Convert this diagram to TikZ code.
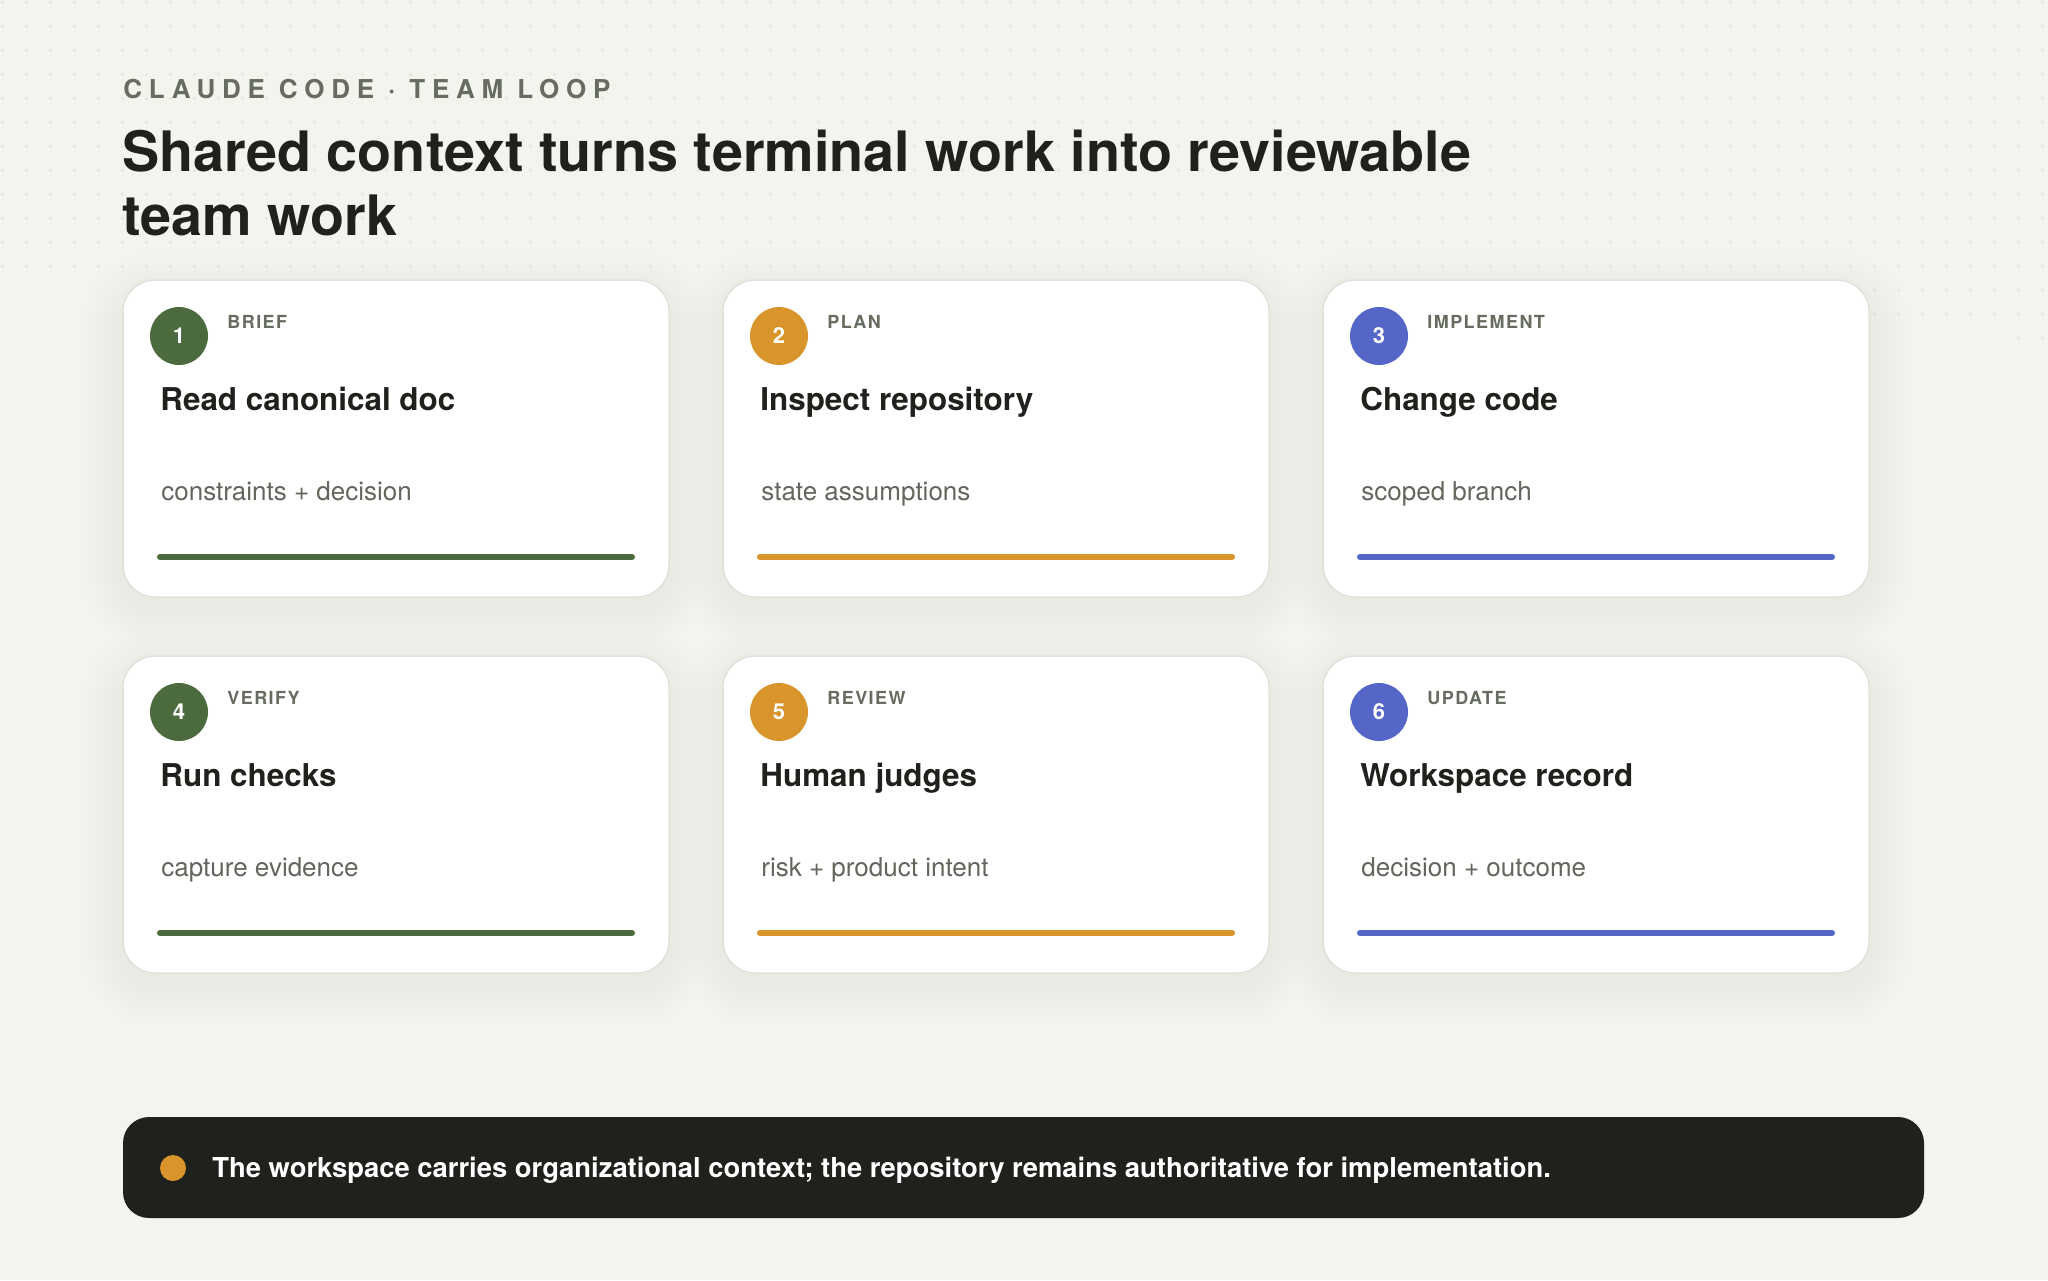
\documentclass[tikz,border=0pt]{standalone}
\usepackage{fontspec}
\setmainfont{TeX Gyre Heros}
\usetikzlibrary{calc}
\definecolor{bgc}{HTML}{F4F4EF}
\definecolor{dotc}{HTML}{E3E3DD}
\definecolor{cardline}{HTML}{E2E2DD}
\definecolor{ink}{HTML}{1E211C}
\definecolor{labgray}{HTML}{676C61}
\definecolor{subgray}{HTML}{62665C}
\definecolor{cgreen}{HTML}{4B6B3E}
\definecolor{corange}{HTML}{D9952C}
\definecolor{cblue}{HTML}{5566C8}
\tikzset{
  cardbox/.style={draw=cardline, line width=0.75pt, fill=white, rounded corners=16pt,
    minimum width=273pt, minimum height=158.5pt, outer sep=0pt, inner sep=0pt},
  numdot/.style={circle, minimum size=29pt, inner sep=0pt, text=white,
    font=\fontsize{11}{13}\selectfont\bfseries},
  lab/.style={anchor=base west, inner sep=0pt, text=labgray,
    font=\fontsize{9}{11}\selectfont\bfseries\addfontfeatures{LetterSpace=8}},
  ctitle/.style={anchor=base west, inner sep=0pt, text=ink,
    font=\fontsize{15.7}{18}\selectfont\bfseries},
  csub/.style={anchor=base west, inner sep=0pt, text=subgray,
    font=\fontsize{13}{15}\selectfont},
  barline/.style={line width=3pt, line cap=round},
  shadowlayer/.style={fill=black, opacity=0.005},
}
\newcommand{\stepcard}[8]{%
  \foreach \s in {2,6,...,38}{%
    \pgfmathsetmacro{\rr}{16+0.5*\s}
    \fill[shadowlayer, rounded corners=\rr pt] (#1-\s,#2-\s+12) rectangle (#1+546+\s,#2+317+\s+12);
  }
  \node[cardbox, anchor=north west] (card#3) at (#1,#2) {};
  \node[numdot, fill=#5] (num#3) at ($(card#3.north west)+(56,56)$) {#4};
  \node[lab] (lab#3) at ($(card#3.north west)+(104,48)$) {#6};
  \node[ctitle] (tit#3) at ($(card#3.north west)+(37,130)$) {#7};
  \node[csub] (sub#3) at ($(card#3.north west)+(38,220)$) {#8};
  \coordinate (bl#3) at ($(card#3.north west)+(37,277)$);
  \coordinate (br#3) at ($(card#3.north west)+(509,277)$);
  \draw[barline, #5] (bl#3) -- (br#3);
}
\begin{document}
\begin{tikzpicture}[x=0.5pt,y=-0.5pt]
\useasboundingbox (0,0) rectangle (2048,1280);
\fill[bgc] (0,0) rectangle (2048,1280);
% dot grid
\foreach \i in {0,...,85}{\foreach \j in {0,...,11}{\fill[dotc] (24*\i+2.5,24*\j+2.5) circle (1.5);}}
\foreach \i in {78,...,85}{\foreach \j in {12,13}{\fill[dotc] (24*\i+2.5,24*\j+2.5) circle (1.5);}}
\foreach \i in {84,85}{\fill[dotc] (24*\i+2.5,338.5) circle (1.5);}
% heading
\node[anchor=base west, inner sep=0pt, text=labgray,
  font=\fontsize{13}{15}\selectfont\bfseries\addfontfeatures{LetterSpace=26}] (kicker) at (123,98.7) {CLAUDE CODE · TEAM LOOP};
\node[anchor=base west, inner sep=0pt, text=ink, font=\fontsize{27.85}{32}\selectfont\bfseries] (title1) at (122,171.5) {Shared context turns terminal work into reviewable};
\node[anchor=base west, inner sep=0pt, text=ink, font=\fontsize{27.85}{32}\selectfont\bfseries] (title2) at (122,235) {team work};
% cards
\stepcard{123}{280}{1}{1}{cgreen}{BRIEF}{Read canonical doc}{constraints + decision}
\stepcard{723}{280}{2}{2}{corange}{PLAN}{Inspect repository}{state assumptions}
\stepcard{1323}{280}{3}{3}{cblue}{IMPLEMENT}{Change code}{scoped branch}
\stepcard{123}{656}{4}{4}{cgreen}{VERIFY}{Run checks}{capture evidence}
\stepcard{723}{656}{5}{5}{corange}{REVIEW}{Human judges}{risk + product intent}
\stepcard{1323}{656}{6}{6}{cblue}{UPDATE}{Workspace record}{decision + outcome}
% banner
\node[fill=ink, rounded corners=13pt, minimum width=900.5pt, minimum height=50.5pt,
  inner sep=0pt, outer sep=0pt, anchor=north west] (banner) at (123,1117) {};
\node[circle, fill=corange, minimum size=13pt, inner sep=0pt] (bdot) at (173,1168) {};
\node[anchor=base west, inner sep=0pt, text=white, font=\fontsize{13.7}{16}\selectfont\bfseries] (btext) at (212,1177)
  {The workspace carries organizational context; the repository remains authoritative for implementation.};
\end{tikzpicture}
\end{document}
